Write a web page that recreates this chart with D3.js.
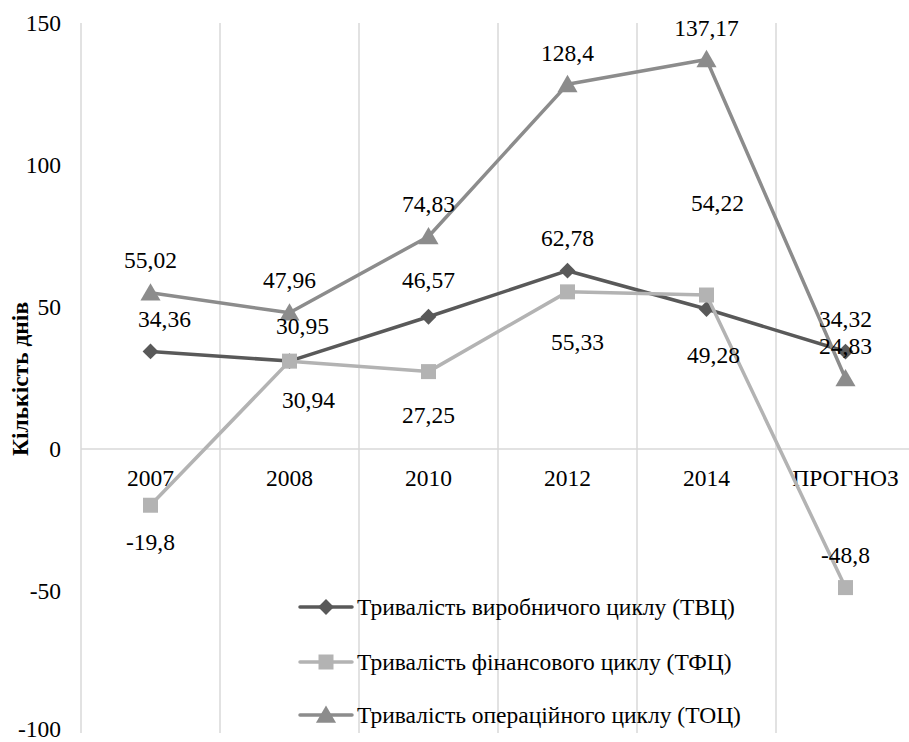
<!DOCTYPE html>
<html><head><meta charset="utf-8">
<script src="https://cdn.jsdelivr.net/npm/d3@7"></script>
<style>body{margin:0;background:#fff}svg{display:block}</style>
</head><body>
<script>
const categories = ["2007","2008","2010","2012","2014","ПРОГНОЗ"];
const tvc = [34.36, 30.95, 46.57, 62.78, 49.28, 34.32];
const tfc = [-19.8, 30.94, 27.25, 55.33, 54.22, -48.8];
const toc = [55.02, 47.96, 74.83, 128.4, 137.17, 24.83];
const seriesNames = ["Тривалість виробничого циклу (ТВЦ)","Тривалість фінансового циклу (ТФЦ)","Тривалість операційного циклу (ТОЦ)"];
const yTicks = [-100,-50,0,50,100,150];
// label offsets (dx, dy in px) relative to point, as placed in the original
const tvcLabelOff = [[14,-33],[13,-35],[0,-37],[0,-33],[7,46],[0,-33]];
const tfcLabelOff = [[0,37],[19,39],[0,43],[10,50],[11,-92],[0,-33]];
const tocLabelOff = [[0,-33],[0,-33],[0,-33],[0,-32],[0,-32],[0,-33]];

const W = 909, H = 742;
const x0 = 81, step = 139;
const FONT = '"Liberation Serif", "Times New Roman", serif';
const FS = 23.5;
const svg = d3.select("body").append("svg").attr("width", W).attr("height", H);

const x = d3.scaleBand().domain(categories).range([x0, x0 + step*categories.length]).paddingInner(0).paddingOuter(0);
const y = d3.scaleLinear().domain([-100,150]).range([733, 23]);
const cx = c => x(c) + x.bandwidth()/2;

// vertical gridlines
const gx = svg.append("g");
d3.range(categories.length + 1).forEach(i => {
  const xx = x0 + i*step;
  gx.append("line").attr("x1", xx).attr("x2", xx).attr("y1", y(150)).attr("y2", y(-100))
    .attr("stroke", "#d9d9d9").attr("stroke-width", 1.5);
});
// zero axis line
svg.append("line").attr("x1", x0).attr("x2", W).attr("y1", y(0)).attr("y2", y(0))
  .attr("stroke", "#d9d9d9").attr("stroke-width", 1.5);

// y tick labels
svg.append("g").selectAll("text").data(yTicks).join("text")
  .attr("x", 61).attr("y", d => d === -100 ? y(d) - 4 : y(d)).attr("dy", "0.35em")
  .attr("text-anchor", "end").style("font-family", FONT).attr("font-size", FS).attr("fill", "#000")
  .text(d => d);

// x category labels
svg.append("g").selectAll("text").data(categories).join("text")
  .attr("x", d => cx(d)).attr("y", y(0) + 29).attr("dy", "0.35em")
  .attr("text-anchor", "middle").style("font-family", FONT).attr("font-size", FS).attr("fill", "#000")
  .text(d => d);

// y axis title
svg.append("text").attr("transform", "translate(20,379) rotate(-90)").attr("dy", "0.35em")
  .attr("text-anchor", "middle").style("font-family", FONT).attr("font-size", 23.5).attr("font-weight", "bold")
  .text("Кількість днів");

const colors = ["#595959", "#b3b3b3", "#8c8c8c"];
const data = [tvc, tfc, toc];
const symbols = [d3.symbolSquare, d3.symbolSquare, d3.symbolTriangle];
const symSizes = [125, 225, 175];
const rot = [45, 0, 0];
const yShift = [0, 0, 2];
const offs = [tvcLabelOff, tfcLabelOff, tocLabelOff];

const line = d3.line().x((d,i) => cx(categories[i])).y(d => y(d));

[0,1,2].forEach(s => {
  const g = svg.append("g");
  g.append("path").datum(data[s]).attr("d", line).attr("fill", "none")
    .attr("stroke", colors[s]).attr("stroke-width", 3.5).attr("stroke-linejoin", "round");
  g.selectAll("path.m").data(data[s]).join("path").attr("class", "m")
    .attr("d", d3.symbol().type(symbols[s]).size(symSizes[s]))
    .attr("transform", (d,i) => `translate(${cx(categories[i])},${y(d) + yShift[s]}) rotate(${rot[s]})`)
    .attr("fill", colors[s]);
});

// data labels
[0,1,2].forEach(s => {
  svg.append("g").selectAll("text").data(data[s]).join("text")
    .attr("x", (d,i) => cx(categories[i]) + offs[s][i][0])
    .attr("y", (d,i) => y(d) + offs[s][i][1]).attr("dy", "0.35em")
    .attr("text-anchor", "middle").style("font-family", FONT).attr("font-size", FS).attr("fill", "#000")
    .text(d => String(d).replace(".", ","));
});

// legend
const lg = svg.append("g");
const legY = [607, 662, 715];
seriesNames.forEach((n, s) => {
  lg.append("line").attr("x1", 300).attr("x2", 352).attr("y1", legY[s]).attr("y2", legY[s])
    .attr("stroke", colors[s]).attr("stroke-width", 3.5).attr("stroke-linecap", "round");
  lg.append("path").attr("d", d3.symbol().type(symbols[s]).size(symSizes[s]))
    .attr("transform", `translate(326,${legY[s] + yShift[s]}) rotate(${rot[s]})`).attr("fill", colors[s]);
  lg.append("text").attr("x", 357).attr("y", legY[s]).attr("dy", "0.35em")
    .style("font-family", FONT).attr("font-size", FS).attr("fill", "#000").text(n);
});
</script>
</body></html>
